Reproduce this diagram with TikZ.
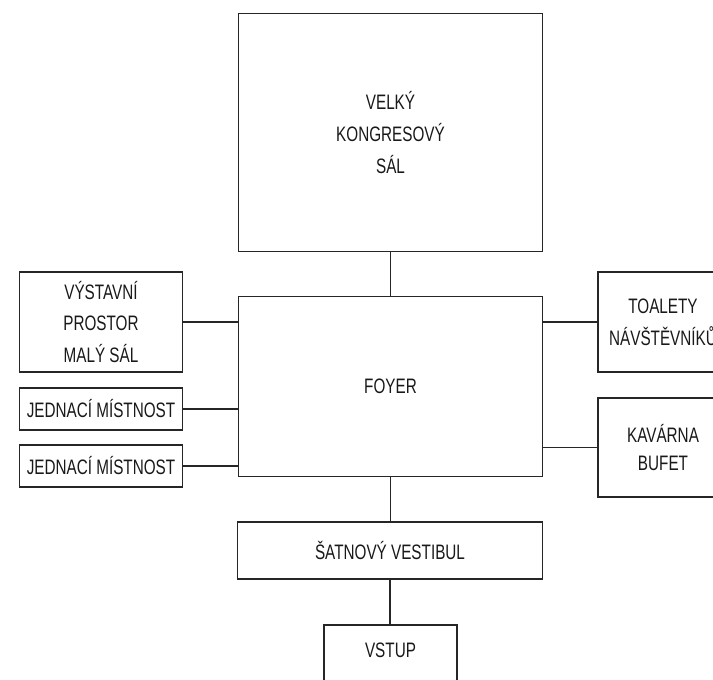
\documentclass[tikz,border=0pt]{standalone}
\usepackage{fontspec}
\setmainfont{Liberation Sans}[FakeStretch=0.73]
\begin{document}
\begin{tikzpicture}[x=1bp,y=-1bp,
  box/.style={draw=black!85, line width=1.6bp, rectangle, inner sep=0pt, align=center,
    font=\fontsize{21}{32}\selectfont, text=black!90},
  link/.style={draw=black!85, line width=1.6bp}]
\useasboundingbox (0,0) rectangle (713,680);
\clip (0,0) rectangle (713,680);
\node[box, minimum width=305, minimum height=239] (velky) at (390.5,132.5) {VELKÝ\\KONGRESOVÝ\\SÁL};
\node[box, minimum width=305, minimum height=181] (foyer) at (390.5,386.5) {FOYER};
\node[box, minimum width=164, minimum height=100] (vystavni) at (101,322) {VÝSTAVNÍ\\PROSTOR\\MALÝ SÁL};
\node[box, minimum width=164, minimum height=42] (jed1) at (101,409) {JEDNACÍ MÍSTNOST};
\node[box, minimum width=164, minimum height=42] (jed2) at (101,466) {JEDNACÍ MÍSTNOST};
\node[box, minimum width=130, minimum height=100] (toalety) at (663,322) {TOALETY\\NÁVŠTĚVNÍKŮ};
\node[box, minimum width=130, minimum height=99, font=\fontsize{21}{29}\selectfont] (kavarna) at (663,447.5) {KAVÁRNA\\BUFET};
\node[box, minimum width=306, minimum height=57] (satnovy) at (390,550.5) {ŠATNOVÝ VESTIBUL};
\node[box, minimum width=133, minimum height=80, text depth=28bp, anchor=north] (vstup) at (390.5,624) {VSTUP};
\draw[link] (velky.south) -- (foyer.north);
\draw[link] (vystavni.east) -- (vystavni.east -| foyer.west);
\draw[link] (jed1.east) -- (jed1.east -| foyer.west);
\draw[link] (jed2.east) -- (jed2.east -| foyer.west);
\draw[link] (toalety.west) -- (toalety.west -| foyer.east);
\draw[link] (kavarna.west) -- (kavarna.west -| foyer.east);
\draw[link] (foyer.south) -- (foyer.south |- satnovy.north);
\draw[link] (satnovy.south) -- (satnovy.south |- vstup.north);
\end{tikzpicture}
\end{document}
